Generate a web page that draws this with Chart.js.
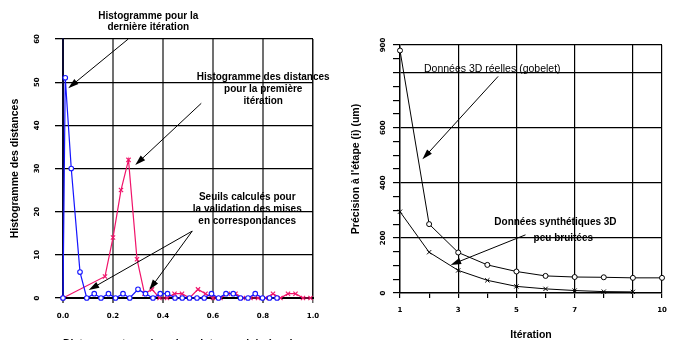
<!DOCTYPE html>
<html>
<head>
<meta charset="utf-8">
<script src="https://cdn.jsdelivr.net/npm/chart.js@4.4.1/dist/chart.umd.min.js"></script>
<style>
  html, body { margin: 0; padding: 0; background: #fff; }
  #wrap { position: relative; width: 677px; height: 340px; overflow: hidden; }
  #c1 { position: absolute; left: 0; top: 0; }
  #c2 { position: absolute; left: 340px; top: 0; }
</style>
</head>
<body>
<div id="wrap">
  <canvas id="c1" width="340" height="340"></canvas>
  <canvas id="c2" width="337" height="340"></canvas>
</div>
<script>
// histogramme, derniere iteration (bleu, cercles)
const lastIterX = [0, 0.009, 0.033, 0.068, 0.095, 0.125, 0.152, 0.182, 0.21, 0.24, 0.267, 0.3, 0.33, 0.36, 0.389, 0.418, 0.448, 0.477, 0.506, 0.536, 0.565, 0.594, 0.622, 0.652, 0.681, 0.71, 0.74, 0.769, 0.798, 0.826, 0.856];
const lastIterY = [0, 51, 30, 6, 0, 1, 0, 1, 0, 1, 0, 2, 1, 0, 1, 1, 0, 0, 0, 0, 0, 1, 0, 1, 1, 0, 0, 1, 0, 0, 0];
// histogramme, premiere iteration (rouge, croix)
const firstIterX = [0, 0.168, 0.2, 0.232, 0.262, 0.296, 0.326, 0.356, 0.386, 0.416, 0.446, 0.476, 0.506, 0.54, 0.57, 0.6, 0.63, 0.66, 0.69, 0.72, 0.75, 0.78, 0.81, 0.84, 0.87, 0.9, 0.93, 0.96, 0.99];
const firstIterY = [0, 5, 14, 25, 32, 9, 1, 2, 0, 0, 1, 1, 0, 2, 1, 0, 0, 1, 1, 0, 0, 0, 0, 1, 0, 1, 1, 0, 0];

// precision par iteration
const iterations = [1, 2, 3, 4, 5, 6, 7, 8, 9, 10];
const realCup = [880, 250, 147, 102, 78, 62, 58, 57, 55, 55];
const synthetic = [295, 148, 82, 46, 24, 15, 9, 5, 4];

const xLabelsRight = [1, 3, 5, 7, 10];
const yLabelsRight = [0, 200, 400, 600, 900];

const tickFont = { family: "'DejaVu Sans'", size: 7, weight: 'bold' };
const titleFont = { family: "'Liberation Sans'", size: 10.5, weight: 'bold' };
const noteBold = "bold 10px 'Liberation Sans'";
const noteReg = "10.5px 'Liberation Sans'";

// textes et fleches, places en coordonnees des axes
const arrowNotes = {
  id: 'arrowNotes',
  afterDraw(chart, args, opts) {
    const ctx = chart.ctx;
    const xs = chart.scales.x, ys = chart.scales.y;
    const px = v => xs.getPixelForValue(v);
    const py = v => ys.getPixelForValue(v);
    ctx.save();
    ctx.fillStyle = '#000';
    ctx.strokeStyle = '#000';
    ctx.textAlign = 'center';
    ctx.textBaseline = 'middle';
    (opts.texts || []).forEach(t => {
      ctx.font = t.font;
      ctx.fillText(t.text, px(t.x), py(t.y));
    });
    (opts.arrows || []).forEach(a => {
      const x0 = px(a.from[0]), y0 = py(a.from[1]);
      const x1 = px(a.to[0]), y1 = py(a.to[1]);
      const ang = Math.atan2(y1 - y0, x1 - x0);
      const len = 11, half = 0.3;
      ctx.lineWidth = 1;
      ctx.beginPath();
      ctx.moveTo(x0, y0);
      ctx.lineTo(x1 - len * 0.8 * Math.cos(ang), y1 - len * 0.8 * Math.sin(ang));
      ctx.stroke();
      ctx.beginPath();
      ctx.moveTo(x1, y1);
      ctx.lineTo(x1 - len * Math.cos(ang - half), y1 - len * Math.sin(ang - half));
      ctx.lineTo(x1 - len * Math.cos(ang + half), y1 - len * Math.sin(ang + half));
      ctx.closePath();
      ctx.fill();
    });
    ctx.restore();
  }
};

const chart1 = new Chart(document.getElementById("c1"), {
  type: "line",
  data: {
    datasets: [
      {
        data: lastIterX.map((x, i) => ({ x: x, y: lastIterY[i] })),
        borderColor: '#1515ff',
        backgroundColor: '#fff',
        borderWidth: 1.2,
        pointStyle: 'circle',
        pointRadius: 2.3,
        pointBorderWidth: 1.1,
        pointBorderColor: '#1515ff',
        tension: 0,
        clip: false
      },
      {
        data: firstIterX.map((x, i) => ({ x: x, y: firstIterY[i] })),
        borderColor: '#f0146a',
        backgroundColor: '#f0146a',
        borderWidth: 1.2,
        pointStyle: 'crossRot',
        pointRadius: 3,
        pointBorderWidth: 1.1,
        tension: 0,
        clip: false
      }
    ]
  },
  options: {
    responsive: false,
    devicePixelRatio: 1,
    animation: false,
    layout: { padding: { top: 39, right: 27, left: 0, bottom: 0 } },
    scales: {
      x: {
        type: 'linear', min: 0, max: 1,
        afterFit: s => { s.height = 42; },
        ticks: { stepSize: 0.2, color: '#000', font: tickFont, padding: 9, maxRotation: 0,
          callback: v => v.toFixed(1) },
        grid: {
          color: c => c.tick && c.tick.value === 0 ? 'rgba(0,0,0,0)' : (c.tick && c.tick.value === 1 ? '#111' : '#707070'),
          lineWidth: c => c.tick && c.tick.value === 1 ? 1.5 : 2,
          tickColor: '#666', tickLength: 5
        },
        border: { color: '#000', width: 2 },
        title: { display: true, text: 'Distance entre paires de points appairés (mm)', align: 'start',
          color: '#000', font: titleFont, padding: { top: 0, bottom: -10 } }
      },
      y: {
        min: 0, max: 60,
        afterFit: s => { s.width = 63; },
        ticks: { stepSize: 10, color: '#000', font: tickFont, minRotation: 90, maxRotation: 90,
          crossAlign: 'center', padding: 13 },
        grid: {
          color: c => c.tick && c.tick.value === 0 ? 'rgba(0,0,0,0)' : '#000',
          lineWidth: 1.3, tickColor: '#000', tickLength: 8
        },
        border: { color: '#0a0a30', width: 2 },
        title: { display: true, text: 'Histogramme des distances', color: '#000', font: titleFont,
          padding: { top: 9, bottom: 0 } }
      }
    },
    plugins: {
      legend: { display: false },
      tooltip: { enabled: false },
      arrowNotes: {
        texts: [
          { text: 'Histogramme pour la', x: 0.341, y: 65.3, font: noteBold },
          { text: 'dernière itération', x: 0.341, y: 62.7, font: noteBold },
          { text: 'Histogramme des distances', x: 0.801, y: 51.2, font: noteBold },
          { text: 'pour la première', x: 0.801, y: 48.4, font: noteBold },
          { text: 'itération', x: 0.801, y: 45.6, font: noteBold },
          { text: 'Seuils calculés pour', x: 0.737, y: 23.4, font: noteBold },
          { text: 'la validation des mises', x: 0.737, y: 20.6, font: noteBold },
          { text: 'en correspondances', x: 0.737, y: 17.8, font: noteBold }
        ],
        arrows: [
          { from: [0.261, 60], to: [0.021, 48.6] },
          { from: [0.553, 45.1], to: [0.289, 30.8] },
          { from: [0.517, 15.5], to: [0.103, 1.85] },
          { from: [0.517, 15.5], to: [0.345, 1.85] }
        ]
      }
    }
  },
  plugins: [arrowNotes]
});

const chart2 = new Chart(document.getElementById("c2"), {
  type: "line",
  data: {
    datasets: [
      {
        data: iterations.map((x, i) => ({ x: x, y: realCup[i] })),
        borderColor: '#000',
        backgroundColor: '#fff',
        borderWidth: 1,
        pointStyle: 'circle',
        pointRadius: 2.5,
        pointBorderWidth: 1,
        tension: 0,
        clip: false
      },
      {
        data: synthetic.map((y, i) => ({ x: iterations[i], y: y })),
        borderColor: '#000',
        backgroundColor: '#000',
        borderWidth: 1,
        pointStyle: 'crossRot',
        pointRadius: 3,
        pointBorderWidth: 1,
        tension: 0,
        clip: false
      }
    ]
  },
  options: {
    responsive: false,
    devicePixelRatio: 1,
    animation: false,
    layout: { padding: { top: 45, right: 15, left: 0, bottom: 0 } },
    scales: {
      x: {
        type: 'linear', min: 1, max: 10,
        afterFit: s => { s.height = 47; },
        ticks: { stepSize: 1, autoSkip: false, maxRotation: 0, color: '#000', font: tickFont, padding: 8,
          callback: v => xLabelsRight.includes(v) ? String(v) : '' },
        grid: {
          color: c => c.tick && [3, 5, 7, 9, 10].includes(c.tick.value) ? '#000' : 'rgba(0,0,0,0)',
          lineWidth: 1.2, tickColor: '#000', tickLength: 5
        },
        border: { color: '#000', width: 1.5 },
        title: { display: true, text: 'Itération', color: '#000', font: titleFont,
          padding: { top: 0, bottom: -1.5 } }
      },
      y: {
        min: 0, max: 900,
        afterFit: s => { s.width = 60; },
        ticks: { stepSize: 50, autoSkip: false, color: '#000', font: tickFont, minRotation: 90, maxRotation: 90,
          crossAlign: 'center', padding: 3,
          callback: v => yLabelsRight.includes(v) ? String(v) : '' },
        grid: {
          color: c => c.tick && c.tick.value > 0 && (c.tick.value % 200 === 0 || c.tick.value === 900) ? '#000' : 'rgba(0,0,0,0)',
          lineWidth: 1.2, tickColor: '#000', tickLength: 7
        },
        border: { color: '#000', width: 1.5 },
        title: { display: true, text: "Précision à l'étape (i) (um)", color: '#000', font: titleFont,
          padding: { top: 10, bottom: 0 } }
      }
    },
    plugins: {
      legend: { display: false },
      tooltip: { enabled: false },
      arrowNotes: {
        texts: [
          { text: 'Données 3D réelles (gobelet)', x: 4.17, y: 811, font: noteReg },
          { text: 'Données synthétiques 3D', x: 6.34, y: 255, font: noteBold },
          { text: 'peu bruitées', x: 6.61, y: 199, font: noteBold }
        ],
        arrows: [
          { from: [4.37, 786], to: [1.77, 485] },
          { from: [5.31, 211], to: [2.74, 102] }
        ]
      }
    }
  },
  plugins: [arrowNotes]
});
</script>
</body>
</html>
